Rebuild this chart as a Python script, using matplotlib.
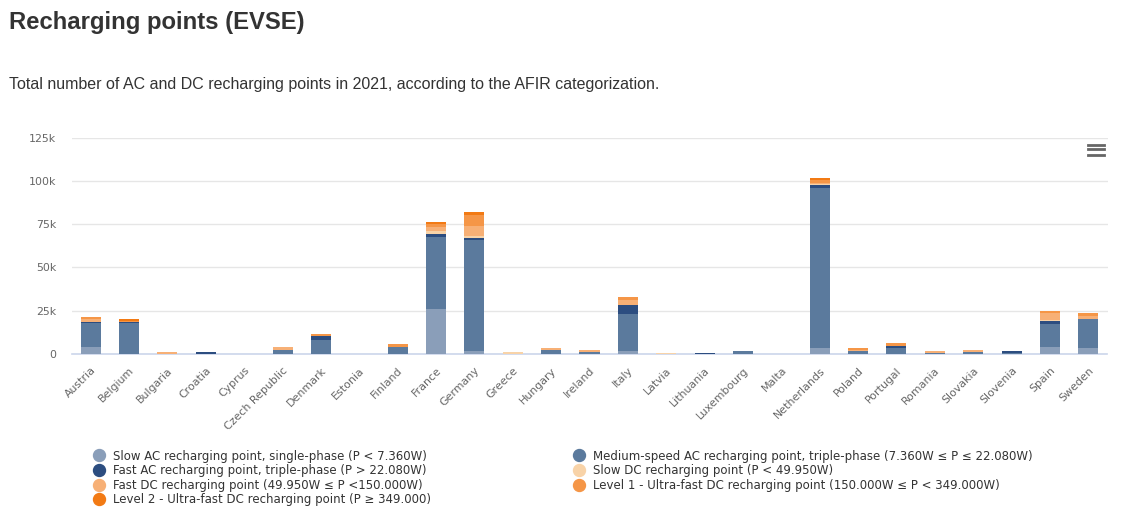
import matplotlib
matplotlib.use('Agg')
import numpy as np
import matplotlib.pyplot as plt
from matplotlib.lines import Line2D

W = 1123
H = 518

countries = ['Austria', 'Belgium', 'Bulgaria', 'Croatia', 'Cyprus', 'Czech Republic', 'Denmark',
             'Estonia', 'Finland', 'France', 'Germany', 'Greece', 'Hungary', 'Ireland', 'Italy',
             'Latvia', 'Lithuania', 'Luxembourg', 'Malta', 'Netherlands', 'Poland', 'Portugal',
             'Romania', 'Slovakia', 'Slovenia', 'Spain', 'Sweden']

# values
slow_ac = [4000, 0, 0, 0, 0, 0, 0, 0, 0, 26000, 1700, 0, 0, 0, 1700, 0, 0, 0, 0, 3500, 0, 0, 0, 0, 0, 4000, 3500]
medium_ac = [13900, 17900, 0, 0, 0, 2300, 8100, 0, 4000, 41500, 64000, 0, 2300, 1150, 21300, 0, 200, 1500, 0, 92300, 1700, 3500, 500, 1150, 500, 13300, 16700]
fast_ac = [600, 600, 0, 1150, 0, 0, 2300, 0, 0, 1700, 1150, 0, 0, 0, 5200, 0, 600, 300, 0, 1700, 0, 1150, 0, 0, 1150, 1700, 0]
slow_dc = [0, 0, 0, 0, 0, 0, 0, 0, 0, 1700, 1150, 1150, 0, 0, 0, 500, 0, 0, 0, 400, 0, 0, 0, 0, 0, 600, 0]
fast_dc = [1700, 0, 1150, 0, 0, 1700, 0, 0, 0, 2300, 5800, 0, 1150, 1150, 2900, 0, 0, 0, 0, 750, 600, 0, 1150, 1150, 0, 4000, 1700]
level1 = [1150, 600, 0, 0, 0, 0, 1150, 0, 1700, 1700, 6300, 0, 0, 0, 1700, 0, 0, 0, 0, 1700, 1150, 1700, 0, 0, 0, 1150, 1700]
level2 = [0, 1100, 0, 0, 0, 0, 0, 0, 0, 1150, 1700, 0, 0, 0, 0, 0, 0, 0, 0, 1150, 0, 0, 0, 0, 0, 0, 0]

series = [slow_ac, medium_ac, fast_ac, slow_dc, fast_dc, level1, level2]
colors = ['#8a9eb9', '#5b7a9d', '#2c4d80', '#f8d3a8', '#f7b076', '#f59647', '#f27a14']
names = ['Slow AC recharging point, single-phase (P < 7.360W)',
         'Medium-speed AC recharging point, triple-phase (7.360W ≤ P ≤ 22.080W)',
         'Fast AC recharging point, triple-phase (P > 22.080W)',
         'Slow DC recharging point (P < 49.950W)',
         'Fast DC recharging point (49.950W ≤ P <150.000W)',
         'Level 1 - Ultra-fast DC recharging point (150.000W ≤ P < 349.000W)',
         'Level 2 - Ultra-fast DC recharging point (P ≥ 349.000)']

plt.rcParams['font.family'] = ['Liberation Sans', 'DejaVu Sans']

fig = plt.figure(figsize=(W / 100, H / 100), dpi=100)
ax = fig.add_axes([71.5 / W, 1 - 354 / H, 1036 / W, 216.5 / H])

x = np.arange(len(countries))
bottom = np.zeros(len(countries))
for vals, col in zip(series, colors):
    ax.bar(x, vals, bottom=bottom, width=20 / 38.37, color=col, linewidth=0, zorder=3)
    bottom += np.array(vals)

ax.set_xlim(-0.5, len(countries) - 0.5)
ax.set_ylim(0, 125000)
ax.set_yticks([0, 25000, 50000, 75000, 100000, 125000])
ax.set_yticklabels(['0', '25k', '50k', '75k', '100k', '125k'], fontsize=7.9, color='#666666', family='DejaVu Sans')
ax.set_xticks(x)
ax.set_xticklabels(countries, rotation=45, ha='right', rotation_mode='anchor', fontsize=7.9, color='#666666',
                   family='DejaVu Sans')
ax.tick_params(axis='both', length=0)
ax.tick_params(axis='x', pad=8)
ax.tick_params(axis='y', pad=11)
ax.grid(axis='y', color='#e6e6e6', linewidth=1, zorder=0)
ax.set_axisbelow(True)
for s in ['top', 'right', 'left']:
    ax.spines[s].set_visible(False)
ax.spines['bottom'].set_color('#ccd6eb')
ax.spines['bottom'].set_linewidth(1.2)

fig.text(9 / W, 1 - 23 / H, 'Recharging points (EVSE)', fontsize=17.2, fontweight='bold',
         color='#333333', va='center')
fig.text(9 / W, 1 - 84 / H, 'Total number of AC and DC recharging points in 2021, according to the AFIR categorization.',
         fontsize=11.55, color='#333333', va='center')

# menu icon
for yp in [144.5, 149.5, 154.5]:
    fig.add_artist(Line2D([1088 / W, 1104 / W], [1 - yp / H, 1 - yp / H], color='#666666', linewidth=2))

# legend: fills by column, so order left column first
order = [0, 2, 4, 6, 1, 3, 5]
handles = [Line2D([], [], linestyle='none', marker='o', markersize=8.6, color=colors[i], label=names[i]) for i in order]
leg = fig.legend(handles=handles, ncols=2, loc='upper left', bbox_to_anchor=(77 / W, 1 - 439 / H),
                 frameon=False, prop={'family': 'DejaVu Sans', 'size': 8.45}, labelcolor='#333333',
                 labelspacing=0.14, handletextpad=0.2, columnspacing=11.6, borderpad=0.4)

fig.savefig('out.png', dpi=100)
